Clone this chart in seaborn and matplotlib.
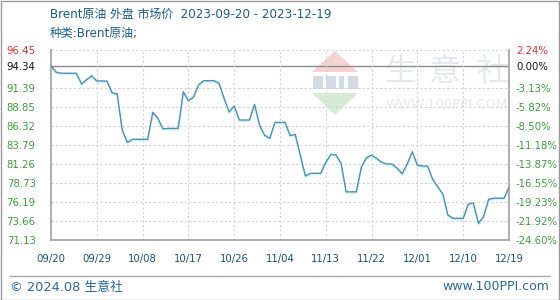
import matplotlib
matplotlib.use("Agg")
import matplotlib.pyplot as plt
import seaborn as sns
import pandas as pd
import numpy as np
from matplotlib.patches import Rectangle, Polygon
from matplotlib.lines import Line2D

# ---------------- data ----------------
start_date = "2023-09-20"
end_date = "2023-12-19"
prices = [
    94.34, 93.50, 93.35, 93.35, 93.35, 93.35, 91.92, 92.50, 93.03, 92.32,
    92.32, 92.32, 90.76, 90.60, 85.79, 84.15, 84.55, 84.55, 84.55, 84.55,
    88.15, 87.35, 85.95, 86.00, 86.00, 86.00, 90.89, 89.69, 90.20, 91.80,
    92.36, 92.36, 92.36, 92.05, 90.05, 88.20, 88.99, 87.12, 87.12, 87.12,
    89.20, 86.42, 85.08, 84.70, 86.80, 86.80, 86.80, 85.05, 85.20, 82.40,
    79.66, 80.02, 80.02, 80.02, 81.48, 82.55, 82.46, 81.35, 77.55, 77.55,
    77.55, 80.90, 82.10, 82.45, 82.00, 81.48, 81.26, 81.26, 80.73, 79.95,
    81.27, 82.90, 81.10, 80.99, 80.99, 79.22, 78.24, 77.26, 74.46, 74.02,
    74.02, 74.02, 75.93, 76.05, 73.35, 74.24, 76.55, 76.69, 76.69, 76.69,
    78.15,
]
x_tick_labels = ["09/20", "09/29", "10/08", "10/17", "10/26", "11/04",
                 "11/13", "11/22", "12/01", "12/10", "12/19"]
y_ticks = [71.13, 73.66, 76.19, 78.73, 81.26, 83.79, 86.32, 88.85, 91.39, 94.34, 96.45]
y_tick_labels = ["71.13", "73.66", "76.19", "78.73", "81.26", "83.79", "86.32",
                 "88.85", "91.39", "94.34", "96.45"]
pct_labels = ["-24.60%", "-21.92%", "-19.23%", "-16.55%", "-13.87%", "-11.18%",
              "-8.50%", "-5.82%", "-3.13%", "0.00%", "2.24%"]
base_value = 94.34
title_text = "Brent原油 外盘 市场价  2023-09-20 - 2023-12-19"
subtitle_text = "种类:Brent原油;"
footer_left = "© 2024.08 生意社"
footer_right = "www.100PPI.com"

dates = pd.date_range(start_date, end_date, freq="D")
df = pd.DataFrame({"date": dates, "price": prices})
x_ticks = pd.to_datetime(["2023-" + lab.replace("/", "-") for lab in x_tick_labels])

# ---------------- style ----------------
sns.set_theme(style="white")
plt.rcParams["font.family"] = ["DejaVu Sans", "Noto Sans CJK SC"]

W, H = 560, 300
fig = plt.figure(figsize=(W / 100, H / 100), dpi=100)
fig.patch.set_facecolor("white")

L, R, T, B = 51, 509, 50, 240
ax = fig.add_axes([L / W, 1 - B / H, (R - L) / W, (B - T) / H])
ax.set_facecolor("white")

# watermark (behind data)
def px(x, y):
    return ((x - L) / (R - L), 1 - (y - T) / (B - T))

ax.add_patch(Polygon([px(335, 51), px(312, 72), px(358, 72)], closed=True,
                     transform=ax.transAxes, facecolor="#f6d2d2", edgecolor="none", zorder=0))
for xs in [(313, 323), (326, 336), (339, 344), (348, 358)]:
    ax.add_patch(Polygon([px(xs[0], 76), px(xs[1], 76), px(xs[1], 89), px(xs[0], 89)],
                         closed=True, transform=ax.transAxes,
                         facecolor="#d2dae6", edgecolor="none", zorder=0))
ax.add_patch(Polygon([px(312, 93), px(358, 93), px(335, 115)], closed=True,
                     transform=ax.transAxes, facecolor="#d4ecd4", edgecolor="none", zorder=0))
for cx, ch in [(400, "生"), (445, "意"), (492, "社")]:
    ax.text(*px(cx, 72), ch, transform=ax.transAxes, ha="center", va="center",
            fontsize=23, color="#e4e7ec", family=["Noto Sans CJK SC"], zorder=0)
ax.text(*px(447, 105), "WWW.100PPI.COM", transform=ax.transAxes, ha="center",
        va="center", fontsize=9.5, color="#e8e8e8", zorder=0)

# shadow + line
ax.plot(df["date"], df["price"] - 0.17, color="#d2f2fa", lw=1.2, zorder=2)
sns.lineplot(data=df, x="date", y="price", ax=ax, color="#4b8fb3", lw=1.0, zorder=3)

ax.set_xlim(dates[0], dates[-1])
ax.set_ylim(y_ticks[0], y_ticks[-1])
ax.set_xlabel("")
ax.set_ylabel("")

# grid
for yv in y_ticks[1:]:
    if yv == base_value:
        ax.axhline(yv, color="#8c8c8c", lw=1.0, zorder=1)
    else:
        ax.axhline(yv, color="#d0d0d0", lw=0.8, ls=(0, (2, 2)), zorder=1)
for xv in x_ticks[1:-1]:
    ax.axvline(xv, color="#d0d0d0", lw=0.8, ls=(0, (2, 2)), zorder=1)

for s in ["left", "bottom", "right"]:
    ax.spines[s].set_color("#a0a0a0")
    ax.spines[s].set_linewidth(1.2)
ax.spines["top"].set_visible(False)

ax.set_xticks(x_ticks)
ax.set_xticklabels(x_tick_labels, fontsize=7.3, color="#1d4d6e")
ax.tick_params(axis="x", length=0, pad=10)

ax.set_yticks(y_ticks)
ax.set_yticklabels(y_tick_labels, fontsize=7.3)
ax.tick_params(axis="y", length=0, pad=11)
for lab, txt in zip(ax.get_yticklabels(), y_tick_labels):
    if txt == "96.45":
        lab.set_color("#cc3333")
    elif txt == "94.34":
        lab.set_color("#111111")
    else:
        lab.set_color("#3a9a3a")

ax2 = ax.twinx()
ax2.set_ylim(ax.get_ylim())
ax2.set_yticks(y_ticks)
ax2.set_yticklabels(pct_labels, fontsize=7.3)
ax2.tick_params(axis="y", length=0, pad=5)
for s in ax2.spines.values():
    s.set_visible(False)
for lab, txt in zip(ax2.get_yticklabels(), pct_labels):
    if txt == "2.24%":
        lab.set_color("#cc3333")
    elif txt == "0.00%":
        lab.set_color("#111111")
    else:
        lab.set_color("#3a9a3a")
ax2.grid(False)

# titles
fig.text(50 / W, 1 - 14 / H, title_text, fontsize=8.6, color="#1d5a80", va="center", ha="left")
fig.text(50 / W, 1 - 33 / H, subtitle_text, fontsize=8.6, color="#1d5a80", va="center", ha="left")

# footer
fig.add_artist(Line2D([10 / W, 550 / W], [1 - 276 / H, 1 - 276 / H], color="#a8a8a8", lw=1.0))
fig.text(10 / W, 1 - 287 / H, footer_left, fontsize=9.3, color="#2a6697", va="center", ha="left")
fig.text(549 / W, 1 - 286 / H, footer_right, fontsize=9.0, color="#2a6697", va="center", ha="right")

# outer border
fig.add_artist(Rectangle((0.5 / W, 0.5 / H), (W - 1.5) / W, (H - 1.5) / H,
                         transform=fig.transFigure, fill=False, edgecolor="#9a9a9a", lw=1.0))

fig.savefig("out.png", dpi=100, facecolor="white")
